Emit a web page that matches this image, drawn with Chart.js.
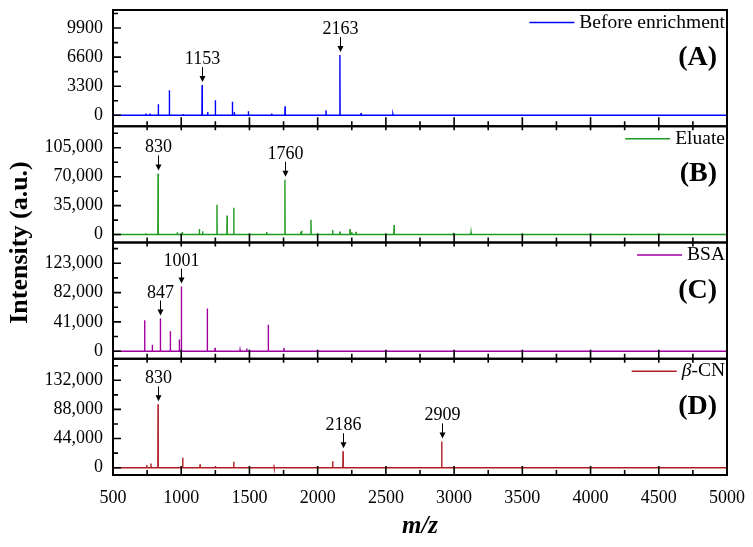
<!DOCTYPE html>
<html><head><meta charset="utf-8">
<script src="https://cdn.jsdelivr.net/npm/chart.js@4.4.0/dist/chart.umd.min.js"></script>
<style>html,body{margin:0;padding:0;background:#fff}#wrap{width:753px;height:547px}</style>
</head><body><div id="wrap"><canvas id="c" width="753" height="547" style="width:753px;height:547px"></canvas></div>
<script>
const FONT = '"Liberation Serif", "Times New Roman", serif';

// x axis
const xRange = [500, 5000];
const xTicks = [500, 1000, 1500, 2000, 2500, 3000, 3500, 4000, 4500, 5000];
const xMinorTicks = [750, 1250, 1750, 2250, 2750, 3250, 3750, 4250, 4750];

// Panel A: Before enrichment
const mzA  = [740, 771, 832, 913, 1015, 1153, 1194, 1250, 1375, 1389, 1492, 1663, 1761, 1920, 2061, 2163, 2318, 2552];
const intA = [190, 200, 1250, 2850, 150, 3420, 380, 1700, 1520, 380, 460, 190, 1020, 80, 570, 6830, 260, 100];
const annA = [1153, 2163];
const yRangeA = [-1250, 11950];
const yTicksA = [0, 3300, 6600, 9900];
const yLabelsA = ['0', '3300', '6600', '9900'];

// Panel B: Eluate
const mzB  = [740, 830, 971, 1008, 1133, 1157, 1262, 1336, 1385, 1626, 1760, 1876, 1882, 1951, 2110, 2164, 2237, 2250, 2281, 2560, 2994, 3124, 3180];
const intB = [1500, 74000, 2800, 3200, 6800, 4000, 36000, 22900, 32500, 3200, 66200, 3500, 4500, 18000, 5600, 3600, 6800, 3000, 3200, 11600, 2200, 2400, 1000];
const annB = [830, 1760];
const yRangeB = [-9600, 131000];
const yTicksB = [0, 35000, 70000, 105000];
const yLabelsB = ['0', '35,000', '70,000', '105,000'];

// Panel C: BSA
const mzC  = [732, 788, 847, 920, 986, 1001, 1191, 1248, 1431, 1480, 1638, 1753];
const intC = [43300, 8900, 45700, 27800, 16500, 90400, 59800, 4700, 1900, 3800, 37200, 4700];
const annC = [847, 1001];
const yRangeC = [-10500, 152000];
const yTicksC = [0, 41000, 82000, 123000];
const yLabelsC = ['0', '41,000', '82,000', '123,000'];

// Panel D: beta-CN
const mzD  = [747, 778, 830, 1011, 1138, 1250, 1385, 1680, 2110, 2186, 2909, 3129];
const intD = [4000, 6400, 95700, 14900, 5000, 2500, 8900, 1500, 9900, 24800, 39700, 1200];
const annD = [830, 2186, 2909];
const yRangeD = [-11000, 164500];
const yTicksD = [0, 44000, 88000, 132000];
const yLabelsD = ['0', '44,000', '88,000', '132,000'];

const panels = [
  {id: 'yA', mz: mzA, it: intA, ann: annA, range: yRangeA, ticks: yTicksA, labels: yLabelsA, color: '#0000ff', name: 'Before enrichment', tag: '(A)'},
  {id: 'yB', mz: mzB, it: intB, ann: annB, range: yRangeB, ticks: yTicksB, labels: yLabelsB, color: '#1f9a1f', name: 'Eluate', tag: '(B)'},
  {id: 'yC', mz: mzC, it: intC, ann: annC, range: yRangeC, ticks: yTicksC, labels: yLabelsC, color: '#a000a0', name: 'BSA', tag: '(C)'},
  {id: 'yD', mz: mzD, it: intD, ann: annD, range: yRangeD, ticks: yTicksD, labels: yLabelsD, color: '#b01c24', name: '-CN', tag: '(D)', italicPrefix: 'β'}
];

function stickData(mz, it) {
  const pts = [{x: xRange[0], y: 0}];
  const order = mz.map((m, i) => i).sort((a, b) => mz[a] - mz[b]);
  order.forEach(i => {
    pts.push({x: mz[i] - 1.5, y: 0}, {x: mz[i], y: it[i]}, {x: mz[i] + 1.5, y: 0});
  });
  pts.push({x: xRange[1], y: 0});
  return pts;
}

const datasets = panels.map(p => ({
  label: p.name,
  data: stickData(p.mz, p.it),
  yAxisID: p.id,
  borderColor: p.color,
  backgroundColor: p.color,
  borderWidth: 1.4,
  pointRadius: 0,
  tension: 0,
  fill: false
}));

const scales = {
  x: {
    type: 'linear', min: xRange[0], max: xRange[1],
    afterBuildTicks: s => { s.ticks = xTicks.map(v => ({value: v})); },
    afterFit: s => { s.height = 72; s.paddingLeft = 0; s.paddingRight = 0; },
    grid: {display: false, drawTicks: false},
    border: {display: false},
    ticks: {font: {family: FONT, size: 18}, color: '#000', padding: 12, autoSkip: false, maxRotation: 0, callback: v => String(v)},
    title: {display: true, text: 'm/z', color: '#000', font: {family: FONT, size: 25, weight: 'bold', style: 'italic'}, padding: {top: 0, bottom: 5}}
  }
};
// define bottom panel first so the last-defined (A) sits on top of the stack
[...panels].reverse().forEach(p => {
  scales[p.id] = {
    type: 'linear', position: 'left', stack: 'panels', stackWeight: 1,
    min: p.range[0], max: p.range[1],
    afterBuildTicks: s => { s.ticks = p.ticks.map(v => ({value: v})); },
    afterFit: s => { s.width = 113; s.paddingTop = 0; s.paddingBottom = 0; },
    grid: {display: false, drawTicks: false},
    border: {display: false},
    ticks: {font: {family: FONT, size: 18}, color: '#000', padding: 10, autoSkip: false,
      callback: (v, i) => p.labels[i]}
  };
});

const decorPlugin = {
  id: 'decor',
  afterDraw(chart) {
    const ctx = chart.ctx, xs = chart.scales.x, ca = chart.chartArea;
    const L = ca.left, R = ca.right;
    ctx.save();
    panels.forEach((p, i) => {
      const s = chart.scales[p.id];
      const T = s.top, B = s.bottom;
      // ticks
      ctx.strokeStyle = '#000';
      ctx.lineWidth = 1.6;
      ctx.beginPath();
      xTicks.forEach(v => { const px = xs.getPixelForValue(v); ctx.moveTo(px, B); ctx.lineTo(px, B - 9); });
      xMinorTicks.forEach(v => { const px = xs.getPixelForValue(v); ctx.moveTo(px, B); ctx.lineTo(px, B - 5); });
      if (i > 0) {
        xTicks.concat(xMinorTicks).forEach(v => { const px = xs.getPixelForValue(v); ctx.moveTo(px, T); ctx.lineTo(px, T + 4); });
      }
      const step = p.ticks[1] - p.ticks[0];
      p.ticks.forEach(v => {
        const py = s.getPixelForValue(v); ctx.moveTo(L, py); ctx.lineTo(L + 8, py);
        const m = v + step / 2;
        if (m < p.range[1]) { const pm = s.getPixelForValue(m); ctx.moveTo(L, pm); ctx.lineTo(L + 5, pm); }
      });
      ctx.stroke();
      // frame
      ctx.lineWidth = 2;
      ctx.strokeRect(L, T, R - L, B - T);

      // legend
      const ly = T + 12.5;
      ctx.font = '19.5px ' + FONT;
      ctx.textBaseline = 'middle';
      ctx.fillStyle = '#000';
      let w = ctx.measureText(p.name).width;
      let pw = 0;
      if (p.italicPrefix) {
        ctx.font = 'italic 19.5px ' + FONT;
        pw = ctx.measureText(p.italicPrefix).width;
      }
      const tx = R - 2 - w - pw;
      if (p.italicPrefix) {
        ctx.textAlign = 'left';
        ctx.fillText(p.italicPrefix, tx, ly);
        ctx.font = '19.5px ' + FONT;
      }
      ctx.textAlign = 'left';
      ctx.fillText(p.name, tx + pw, ly);
      ctx.strokeStyle = p.color;
      ctx.lineWidth = 1.5;
      ctx.beginPath();
      ctx.moveTo(tx - 5 - 45, ly); ctx.lineTo(tx - 5, ly);
      ctx.stroke();

      // panel tag
      ctx.font = 'bold 28px ' + FONT;
      ctx.textAlign = 'right';
      ctx.fillStyle = '#000';
      ctx.fillText(p.tag, R - 10, T + 48);

      // annotations
      ctx.font = '18px ' + FONT;
      ctx.textAlign = 'center';
      ctx.textBaseline = 'alphabetic';
      ctx.strokeStyle = '#000';
      ctx.lineWidth = 1;
      p.ann.forEach(m => {
        const idx = p.mz.indexOf(m);
        const px = Math.round(xs.getPixelForValue(m)) + 0.5;
        const py = s.getPixelForValue(p.it[idx]);
        const tip = py - 3, top = tip - 15;
        ctx.beginPath();
        ctx.moveTo(px, top); ctx.lineTo(px, tip - 5);
        ctx.stroke();
        ctx.beginPath();
        ctx.moveTo(px - 3, tip - 6); ctx.lineTo(px + 3, tip - 6); ctx.lineTo(px, tip);
        ctx.closePath(); ctx.fill();
        ctx.fillText(String(m), px, top - 3);
      });
    });
    // y title
    const sA = chart.scales.yA, sD = chart.scales.yD;
    ctx.translate(20, (sA.top + sD.bottom) / 2);
    ctx.rotate(-Math.PI / 2);
    ctx.font = 'bold 26px ' + FONT;
    ctx.textAlign = 'center';
    ctx.textBaseline = 'middle';
    ctx.fillStyle = '#000';
    ctx.fillText('Intensity (a.u.)', 0, 0);
    ctx.restore();
  }
};

new Chart(document.getElementById('c'), {
  type: 'line',
  data: {datasets},
  options: {
    responsive: false,
    animation: false,
    devicePixelRatio: 1,
    layout: {padding: {left: 0, right: 26, top: 10, bottom: 0}},
    plugins: {legend: {display: false}, tooltip: {enabled: false}},
    scales
  },
  plugins: [decorPlugin]
});
</script>
</body></html>
